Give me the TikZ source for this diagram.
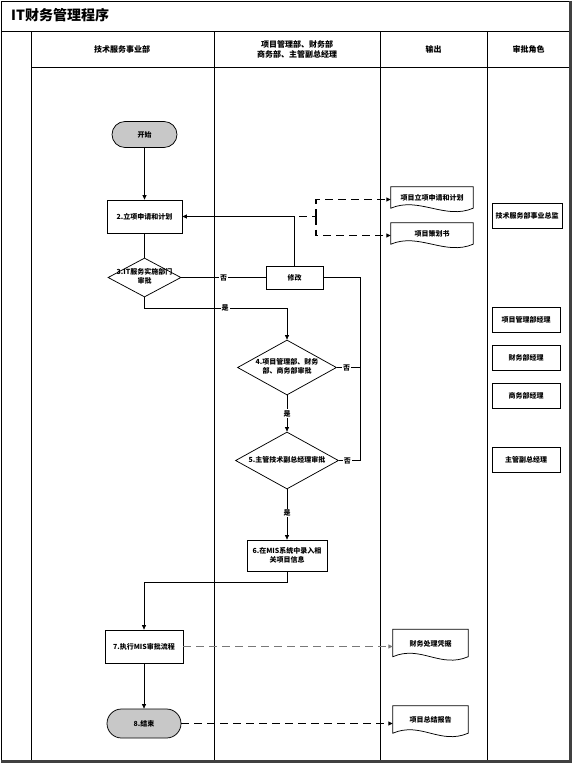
\documentclass[tikz,border=0pt]{standalone}
\usepackage{fontspec}
\setmainfont{Noto Sans CJK SC}
\usetikzlibrary{arrows.meta,shapes.geometric,calc}
\newcommand\ctrtext[1]{\makebox[0pt]{\begin{tabular}{@{}c@{}}#1\end{tabular}}}
\newcommand\docoutline[1]{\draw[line width=0.75pt] (#1.north west) -- (#1.north east) -- ([yshift=4pt]#1.south east) .. controls +(-28pt,-12pt) and +(28pt,12pt) .. ([yshift=4pt]#1.south west) -- cycle;}
\definecolor{fillgray}{RGB}{200,200,200}
\definecolor{framegray}{RGB}{64,64,64}
\definecolor{dashgray}{RGB}{120,120,120}
\begin{document}
\begin{tikzpicture}[x=1pt,y=-1pt,
  every node/.style={font=\fontsize{7}{9}\selectfont\bfseries, inner sep=1pt},
  proc/.style={draw, line width=0.75pt, fill=white, rectangle, align=center},
  term/.style={draw, line width=0.75pt, fill=fillgray, rectangle, align=center},
  dec/.style={draw, line width=0.75pt, fill=white, diamond, inner sep=0pt},
  outdoc/.style={rectangle, align=center, inner sep=0pt, text depth=4pt},
  hdr/.style={font=\fontsize{8}{10}\selectfont\bfseries, align=center},
  lbl/.style={fill=white, inner sep=1pt},
  arr/.style={-{Triangle[length=4.5pt,width=4pt]}},
  conn/.style={line width=0.75pt},
  dashconn/.style={line width=1.1pt, dash pattern=on 8pt off 5pt},
  lane/.style={line width=0.8pt}
]
\useasboundingbox (0,0) rectangle (572,763);
% frame and lanes
\draw[lane] (1,762) -- (1,1) -- (570,1);
\draw[lane] (1,31) -- (570,31);
\draw[lane] (31,67) -- (570,67);
\draw[lane] (31,31) -- (31,761);
\draw[lane] (214,31) -- (214,761);
\draw[lane] (380,31) -- (380,761);
\draw[lane] (487,31) -- (487,761);
\draw[line width=2.5pt, framegray] (570.5,0.5) -- (570.5,761.5) -- (0.5,761.5);
% title and headers
\node[anchor=west, font=\fontsize{14}{16}\selectfont\bfseries] (title) at (10,15.5) {IT财务管理程序};
\node[hdr] (h1) at (122,49.5) {技术服务事业部};
\node[hdr] (h2) at (297,49.5) {项目管理部、财务部\\商务部、主管副总经理};
\node[hdr] (h3) at (433.5,49.5) {输出};
\node[hdr] (h4) at (528.5,49.5) {审批角色};
% flow nodes
\node[term, minimum width=65pt, minimum height=26pt, rounded corners=13pt] (start) at (144.5,134.5) {开始};
\node[proc, minimum width=75pt, minimum height=33pt] (b2) at (144.5,216.5) {2.立项申请和计划};
\node[dec, minimum width=73pt, minimum height=39pt] (d3) at (144.5,277.5) {\ctrtext{3.IT服务实施部门\\审批}};
\node[proc, minimum width=57pt, minimum height=23pt] (xg) at (294.5,277.5) {修改};
\node[dec, minimum width=99pt, minimum height=55pt] (d4) at (287,367.5) {\ctrtext{4.项目管理部、财务\\部、商务部审批}};
\node[dec, minimum width=103pt, minimum height=57pt] (d5) at (287,460.5) {\ctrtext{5.主管技术副总经理审批}};
\node[proc, minimum width=80pt, minimum height=31pt] (b6) at (287,555.5) {6.在MIS系统中录入相\\关项目信息};
\node[proc, minimum width=78pt, minimum height=33pt] (b7) at (144,646.5) {7.执行MIS审批流程};
\node[term, minimum width=74pt, minimum height=29pt, rounded corners=14.5pt] (end) at (144,723.5) {8.结束};
% outputs
\node[outdoc, minimum width=82pt, minimum height=25pt] (o1) at (432,199.5) {项目立项申请和计划};
\node[outdoc, minimum width=82pt, minimum height=25pt] (o2) at (432,235.5) {项目策划书};
\node[outdoc, minimum width=75pt, minimum height=31pt] (o3) at (430.5,645) {财务处理凭据};
\node[outdoc, minimum width=75pt, minimum height=31pt] (o4) at (430.5,721.5) {项目总结报告};
\docoutline{o1}
\docoutline{o2}
\docoutline{o3}
\docoutline{o4}
% approval roles
\node[proc, minimum width=70pt, minimum height=25pt] (r1) at (527,215.5) {技术服务部事业总监};
\node[proc, minimum width=68pt, minimum height=25pt] (r2) at (526,319.5) {项目管理部经理};
\node[proc, minimum width=68pt, minimum height=25pt] (r3) at (526,357.5) {财务部经理};
\node[proc, minimum width=68pt, minimum height=25pt] (r4) at (526,395.5) {商务部经理};
\node[proc, minimum width=68pt, minimum height=25pt] (r5) at (526,460) {主管副总经理};
% helper coordinates
\coordinate (br) at (316,216.5);
\coordinate (j1) at (144.5,308);
\coordinate (rt) at (360,277.5);
\coordinate (j2) at (287,582.5);
% connectors
\draw[conn,arr] (start) -- (b2);
\draw[conn] (b2) -- (d3);
\draw[conn] (d3) -- node[lbl]{否} (xg);
\draw[conn,arr] (xg.north) |- (b2.east);
\draw[dashconn, line width=1.4pt] (b2.east) -- (br);
\draw[dashconn,arr] (br) |- (o1.west);
\draw[dashconn,arr] (br) |- (o2.west);
\draw[conn,arr] (d3.south) -- (j1) -- node[lbl,pos=0.565]{是} (j1 -| d4.north) -- (d4.north);
\draw[conn,arr] (d4) -- node[lbl]{是} (d5);
\draw[conn,arr] (d5) -- node[lbl,pos=0.47]{是} (b6);
\draw[conn] (xg.east) -- (rt) -- (rt |- d5.east) -- node[lbl,pos=0.6]{否} (d5.east);
\draw[conn] (d4.east) -- node[lbl,pos=0.42]{否} (d4.east -| rt);
\draw[conn,arr] (b6.south) -- (j2) -| (b7.north);
\draw[conn,arr] (b7) -- (end);
\draw[dashconn,dashgray,line width=1.5pt,arr] (b7.east) -- (b7.east -| o3.west);
\draw[dashconn,arr] (end.east) -- (end.east -| o4.west);
\end{tikzpicture}
\end{document}
